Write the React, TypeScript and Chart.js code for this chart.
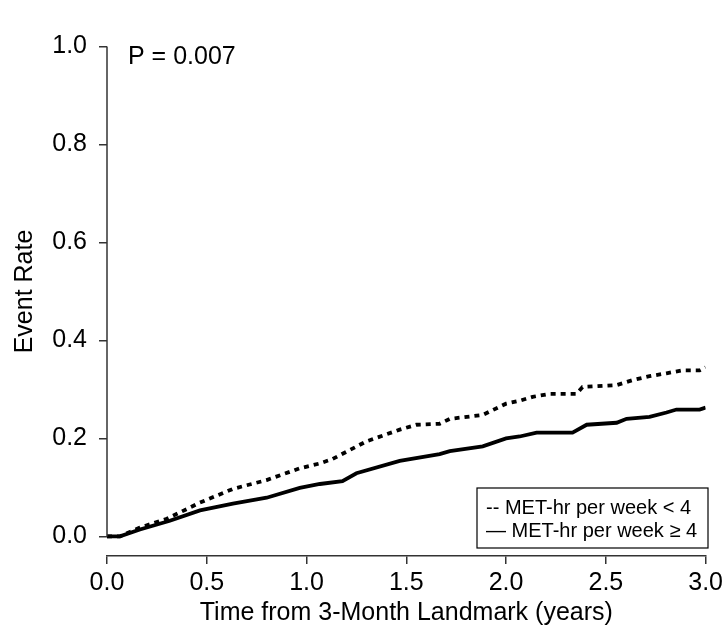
import React, { useEffect, useRef } from "react";
import { Chart, registerables } from "chart.js";

Chart.register(...registerables);

// Cumulative event rate by years since the 3-month landmark
const TIME_LOW = [0, 0.065, 0.165, 0.3, 0.466, 0.631, 0.8, 0.966, 1.067, 1.13, 1.3, 1.467, 1.55, 1.667, 1.718, 1.883, 2.0, 2.068, 2.133, 2.218, 2.353, 2.383, 2.554, 2.634, 2.719, 2.804, 2.884, 2.97, 3.0];
const RATE_LOW = [0, 0, 0.018, 0.036, 0.069, 0.097, 0.115, 0.139, 0.149, 0.158, 0.194, 0.218, 0.228, 0.23, 0.24, 0.248, 0.271, 0.277, 0.285, 0.291, 0.291, 0.305, 0.309, 0.319, 0.327, 0.333, 0.339, 0.339, 0.345];

const TIME_HIGH = [0, 0.065, 0.165, 0.315, 0.466, 0.631, 0.8, 0.966, 1.067, 1.18, 1.25, 1.467, 1.667, 1.718, 1.883, 2.0, 2.068, 2.153, 2.333, 2.404, 2.554, 2.604, 2.719, 2.804, 2.854, 2.97, 3.0];
const RATE_HIGH = [0, 0, 0.014, 0.032, 0.053, 0.067, 0.079, 0.099, 0.107, 0.113, 0.129, 0.154, 0.168, 0.174, 0.184, 0.2, 0.204, 0.212, 0.212, 0.228, 0.232, 0.24, 0.244, 0.253, 0.259, 0.259, 0.263];

const LEGEND_LABELS = ["-- MET-hr per week < 4", "\u2014 MET-hr per week \u2265 4"];
const Y_TICKS = [0, 0.2, 0.4, 0.6, 0.8, 1.0];
const P_TEXT = "P = 0.007";

const FONT = "'Liberation Sans', Arial, sans-serif";
const AXIS_COLOR = "#333333";

// R-style y axis: line only spans the tick range; plus p-value and boxed legend
const annotations = {
  id: "annotations",
  afterDraw(chart: any) {
    const { ctx, chartArea, scales } = chart;
    const y = scales.y;
    ctx.save();
    ctx.strokeStyle = AXIS_COLOR;
    ctx.lineWidth = 1.5;
    ctx.beginPath();
    ctx.moveTo(chartArea.left, y.getPixelForValue(Y_TICKS[0]));
    ctx.lineTo(chartArea.left, y.getPixelForValue(Y_TICKS[Y_TICKS.length - 1]));
    ctx.stroke();

    ctx.fillStyle = "#000";
    ctx.font = `25px ${FONT}`;
    ctx.textBaseline = "middle";
    ctx.textAlign = "left";
    ctx.fillText(P_TEXT, chartArea.left + 21, 57);

    // legend box
    const bx = 477, by = 488, bw = 231, bh = 60;
    ctx.fillStyle = "#fff";
    ctx.fillRect(bx, by, bw, bh);
    ctx.strokeStyle = "#000";
    ctx.lineWidth = 1.2;
    ctx.strokeRect(bx, by, bw, bh);
    ctx.fillStyle = "#000";
    ctx.font = `20px ${FONT}`;
    ctx.textBaseline = "alphabetic";
    ctx.fillText(LEGEND_LABELS[0], bx + 9, by + 26);
    ctx.fillText(LEGEND_LABELS[1], bx + 9, by + 49);
    ctx.restore();
  },
};

export default function App() {
  const ref = useRef<HTMLCanvasElement>(null);

  useEffect(() => {
    if (!ref.current) return;
    const chart = new Chart(ref.current, {
      type: "line",
      data: {
        datasets: [
          {
            label: LEGEND_LABELS[0],
            data: TIME_LOW.map((t, i) => ({ x: t, y: RATE_LOW[i] })),
            borderColor: "#000",
            borderWidth: 3.8,
            borderDash: [5, 5],
            pointRadius: 0,
            tension: 0,
          },
          {
            label: LEGEND_LABELS[1],
            data: TIME_HIGH.map((t, i) => ({ x: t, y: RATE_HIGH[i] })),
            borderColor: "#000",
            borderWidth: 3.8,
            pointRadius: 0,
            tension: 0,
          },
        ],
      },
      options: {
        animation: false,
        responsive: false,
        layout: { padding: { left: 0, top: 21, right: 21, bottom: 0 } },
        plugins: { legend: { display: false }, tooltip: { enabled: false } },
        scales: {
          x: {
            type: "linear",
            min: 0,
            max: 3,
            afterFit: (s: any) => {
              s.height = 79;
            },
            ticks: {
              stepSize: 0.5,
              color: "#000",
              padding: 4,
              font: { family: FONT, size: 25 },
              callback: (v: any) => Number(v).toFixed(1),
              maxRotation: 0,
            },
            grid: { drawOnChartArea: false, tickLength: 8, color: AXIS_COLOR, lineWidth: 1.5 },
            border: { display: true, color: AXIS_COLOR, width: 1.5 },
            title: {
              display: true,
              text: "Time from 3-Month Landmark (years)",
              color: "#000",
              font: { family: FONT, size: 25 },
              padding: { top: 0, bottom: 7 },
            },
          },
          y: {
            type: "linear",
            min: -0.04,
            max: 1.04,
            afterFit: (s: any) => {
              s.width = 107;
            },
            afterBuildTicks: (s: any) => {
              s.ticks = Y_TICKS.map((v) => ({ value: v }));
            },
            ticks: {
              color: "#000",
              padding: 12,
              font: { family: FONT, size: 25 },
              callback: (v: any) => Number(v).toFixed(1),
            },
            grid: { drawOnChartArea: false, tickLength: 8, color: AXIS_COLOR, lineWidth: 1.5 },
            border: { display: false },
            title: {
              display: true,
              text: "Event Rate",
              color: "#000",
              font: { family: FONT, size: 25 },
              padding: { top: 10, bottom: 0 },
            },
          },
        },
      },
      plugins: [annotations],
    });
    return () => chart.destroy();
  }, []);

  return (
    <div style={{ position: "absolute", left: 0, top: 0, width: 727, height: 635, background: "#fff" }}>
      <canvas ref={ref} width={727} height={635} />
    </div>
  );
}
